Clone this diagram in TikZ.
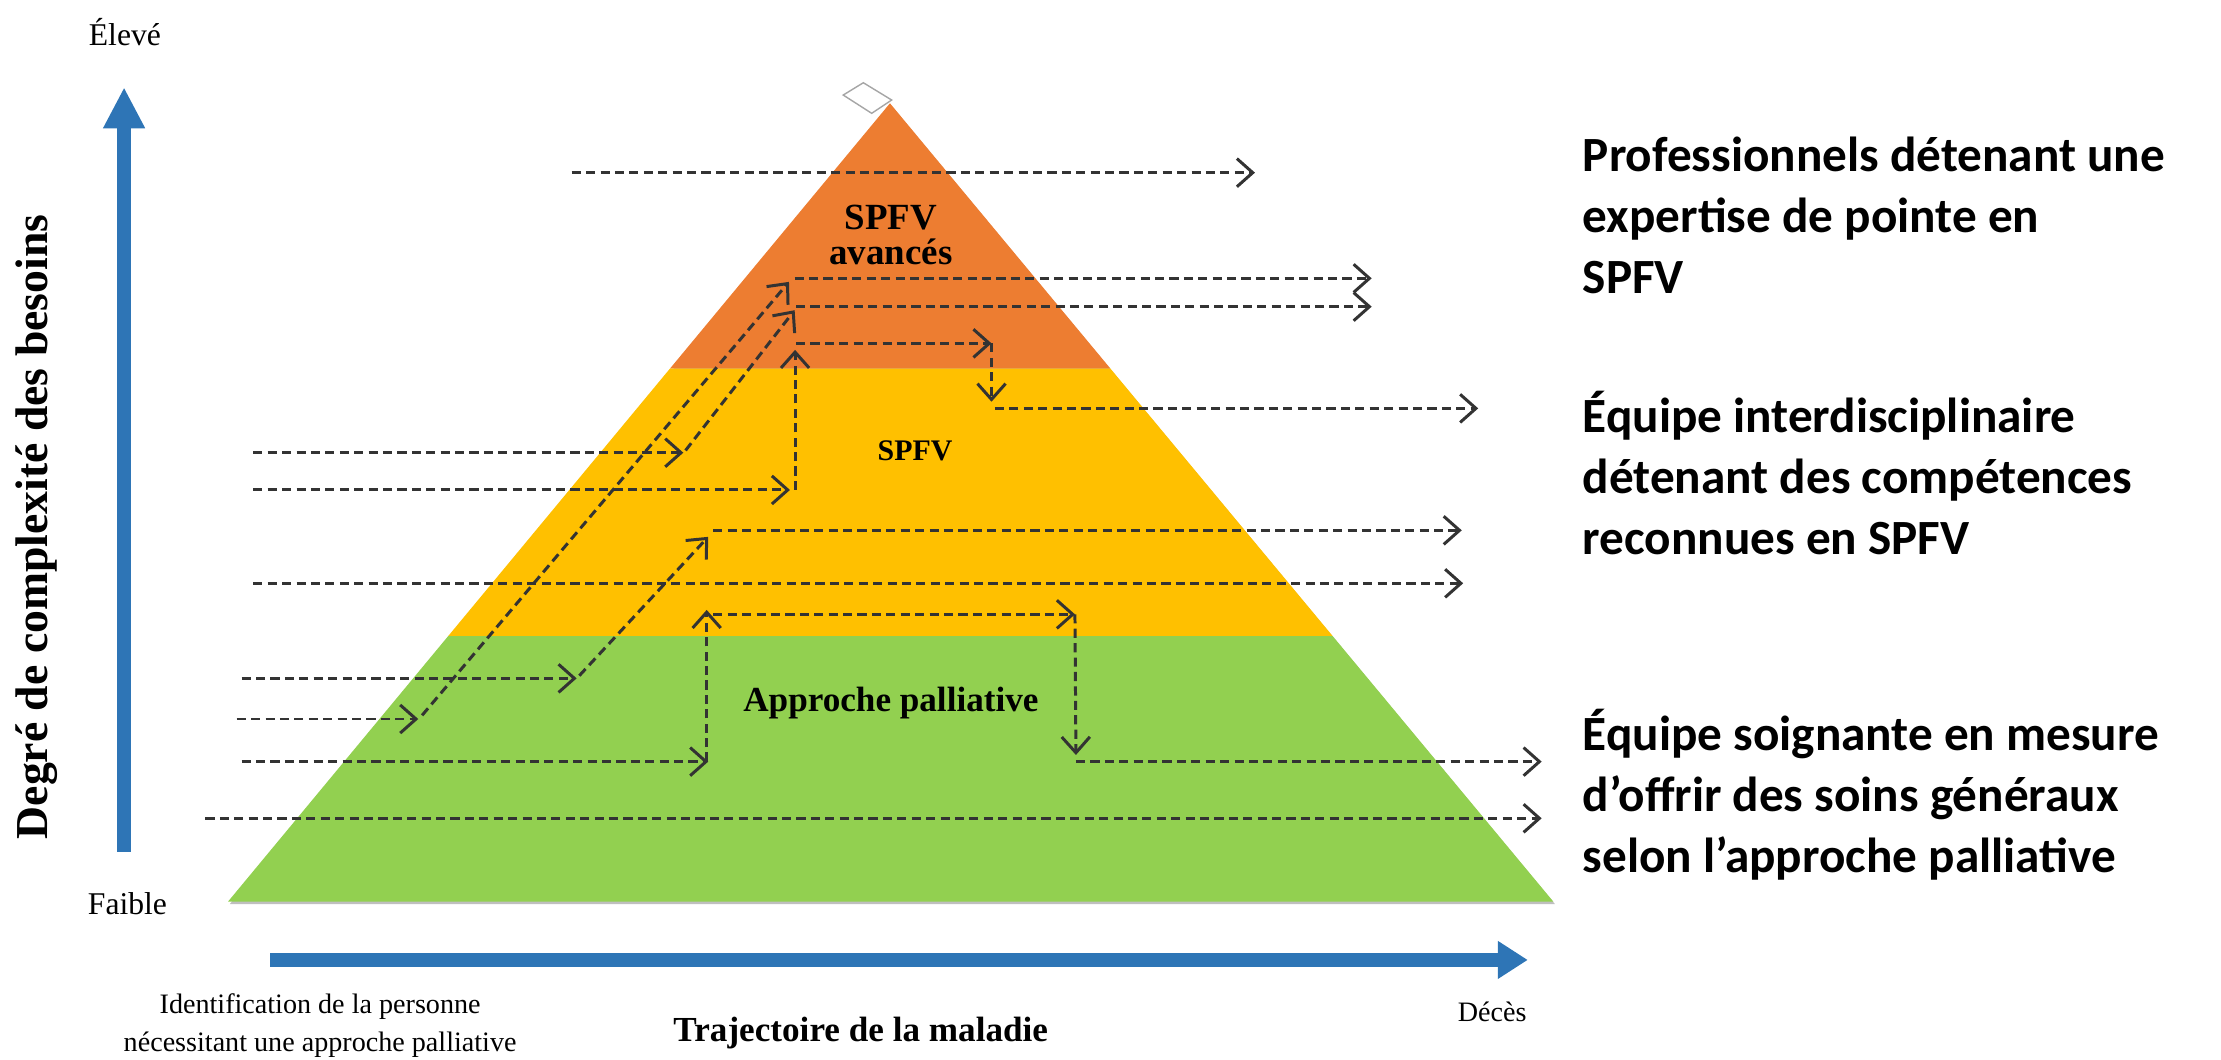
\documentclass[tikz,border=0pt]{standalone}
\usepackage{fontspec}
\setmainfont{Liberation Serif}
\newfontfamily\calibri{Carlito}
\usepackage{xcolor}
\usetikzlibrary{calc, arrows.meta}

\definecolor{axisblue}{RGB}{46,117,182}
\definecolor{tierorange}{RGB}{237,125,49}
\definecolor{tieryellow}{RGB}{255,192,0}
\definecolor{tiergreen}{RGB}{146,208,80}

\tikzset{
	traj/.style = {draw = black!80, line width = 0.85pt, dash pattern = on 2.6pt off 1.5pt,
		-{Straight Barb[length = 4.5pt, width = 8pt]}},
	axe/.style = {draw = axisblue, line width = 4.2pt},
	niveau/.style = {anchor = west, align = left, inner sep = 0pt,
		font = \calibri\bfseries\fontsize{14}{17.4}\selectfont}
}

\begin{document}
\begin{tikzpicture}[x = 0.014165cm, y = -0.014165cm]
					\useasboundingbox (0,0) rectangle (1568,748);

					% pyramide
					\coordinate (sommet) at (628.3,72.9);
					\coordinate (baseG) at (161,636.5);
					\coordinate (baseD) at (1096.6,636.5);
					\coordinate (oG) at ($(sommet)!0.332!(baseG)$);
					\coordinate (oD) at ($(sommet)!0.332!(baseD)$);
					\coordinate (vG) at ($(sommet)!0.6673!(baseG)$);
					\coordinate (vD) at ($(sommet)!0.6673!(baseD)$);

					\begin{scope}
						\fill [black!25] ($(sommet)+(1.2,1.8)$) -- ($(baseG)+(1.2,1.8)$) -- ($(baseD)+(1.2,1.8)$) -- cycle;
						\fill [tiergreen] (baseG) -- (baseD) -- (vD) -- (vG) -- cycle;
						\fill [tieryellow] (vG) -- (vD) -- (oD) -- (oG) -- cycle;
						\fill [tierorange] (oG) -- (oD) -- (sommet) -- cycle;
						\filldraw [fill = white, draw = black!35, line width = 0.4pt] (595.3,67.1) -- (609.5,58.4) -- (629.5,70.6) -- (615.4,80) -- cycle;
					\end{scope}

					\node [font = \bfseries\fontsize{10.5}{10}\selectfont, align = center] (avances) at (629,166) {SPFV\\avancés};
					\node [font = \bfseries\fontsize{8.5}{10}\selectfont] (spfv) at (646,318) {SPFV};
					\node [font = \bfseries\fontsize{10}{12}\selectfont] (approche) at (629,496.5) {Approche palliative};

					% trajectoires directes
					\foreach \nom/\y/\xa/\xb in {t1/121.9/403.6/886, t2/319.6/178.8/482.4, t3/345.9/178.8/557.7,
						t4/411.8/178.8/1033, t5/478.9/170.6/407.1, t6/507.6/167.1/295.3,
						t7/537.7/170.6/500, t8/577.7/145/1088.4}
					{
						\coordinate (\nom g) at (\xa,\y);
						\coordinate (\nom d) at (\xb,\y);
						\draw [traj] (\nom g) -- (\nom d);
					}

					% trajectoires en escalier
					\coordinate (a1) at (298,505);   \coordinate (a2) at (557,199);
					\coordinate (a3) at (561,196.5); \coordinate (a4) at (968.4,196.5);
					\coordinate (b1) at (484,318);   \coordinate (b2) at (561,219);
					\coordinate (b3) at (562,216.5); \coordinate (b4) at (968.4,216.5);
					\coordinate (c1) at (409,477);   \coordinate (c2) at (500,379);
					\coordinate (c3) at (503.6,374.4); \coordinate (c4) at (1032,374.4);
					\coordinate (d1) at (561.3,345.9); \coordinate (d2) at (561.3,247);
					\coordinate (d3) at (562,242.4); \coordinate (d4) at (700,242.4);
					\coordinate (d5) at (700,283.6); \coordinate (d6) at (702.4,288.3);
					\coordinate (d7) at (1043.6,288.3);
					\coordinate (e1) at (498.9,537.7); \coordinate (e2) at (498.9,430.6);
					\coordinate (e3) at (503.6,433.7); \coordinate (e4) at (758.9,433.7);
					\coordinate (e5) at (759.6,533);   \coordinate (e6) at (759.6,537.7);
					\coordinate (e7) at (1088.4,537.7);

					\draw [traj] (a1) -- (a2);
					\draw [traj] (a3) -- (a4);
					\draw [traj] (b1) -- (b2);
					\draw [traj] (b3) -- (b4);
					\draw [traj] (c1) -- (c2);
					\draw [traj] (c3) -- (c4);
					\draw [traj] (d1) -- (d2);
					\draw [traj] (d3) -- (d4);
					\draw [traj] (d4) -- (d5);
					\draw [traj] (d6) -- (d7);
					\draw [traj] (e1) -- (e2);
					\draw [traj] (e3) -- (e4);
					\draw [traj] (e4) -- (e5);
					\draw [traj] (e6) -- (e7);

					% axes
					\begin{scope}
						\node [font = \fontsize{9}{10}\selectfont] (eleve) at (88.2,22.4) {Élevé};
						\node [font = \fontsize{9}{10}\selectfont] (faible) at (90,638) {Faible};
						\node [font = \bfseries\fontsize{13}{14}\selectfont, rotate = 90] (degre) at (26,372) {Degré de complexité des besoins};
						\coordinate (yBas) at (87.6,601.3);
						\coordinate (yHaut) at (87.6,61.6);
						\draw [axe, -{Triangle[length = 0.41cm, width = 0.39cm]}] (yBas) -- (yHaut);
					\end{scope}

					\begin{scope}
						\coordinate (xG) at (190.7,677.7);
						\coordinate (xD) at (1078.6,677.7);
						\draw [axe, line width = 4pt, -{Triangle[length = 0.3cm, width = 0.36cm]}] (xG) -- (xD);
						\node [font = \fontsize{8}{10.8}\selectfont, align = center] (ident) at (226,724.2) {Identification de la personne\\nécessitant une approche palliative};
						\node [font = \bfseries\fontsize{10}{12}\selectfont] (trajectoire) at (607.7,729.5) {Trajectoire de la maladie};
						\node [font = \fontsize{8}{10}\selectfont] (deces) at (1053.5,714.2) {Décès};
					\end{scope}

					% niveaux
					\node [niveau] (niveau3) at (1117,152) {Professionnels détenant une\\expertise de pointe en\\SPFV};
					\node [niveau] (niveau2) at (1117,334) {Équipe interdisciplinaire\\détenant des compétences\\reconnues en SPFV};
					\node [niveau] (niveau1) at (1117,561) {Équipe soignante en mesure\\d’offrir des soins généraux\\selon l’approche palliative};
				\end{tikzpicture}
\end{document}
